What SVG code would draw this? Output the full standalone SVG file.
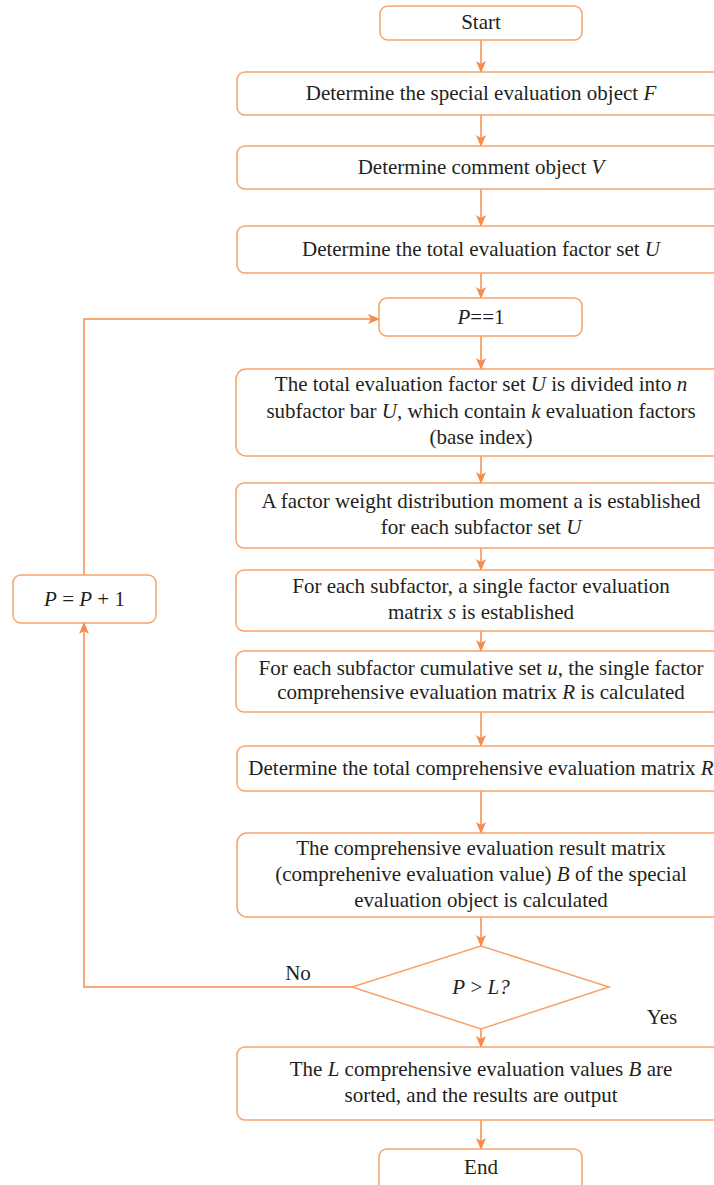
<svg xmlns="http://www.w3.org/2000/svg" width="714" height="1185" viewBox="0 0 714 1185">
<style>
.box{fill:#fff;stroke:#f7a26a;stroke-width:1.5}
.ln{fill:none;stroke:#f48c4c;stroke-width:1.5}
text{font-family:"Liberation Serif","Times New Roman",serif;font-size:21px;fill:#231f20;text-anchor:middle}
.i{font-style:italic}
</style>
<defs>
<marker id="ah" markerWidth="12" markerHeight="10" refX="11" refY="5" orient="auto" markerUnits="userSpaceOnUse">
<path d="M0,0 L12,5 L0,10 L3,5 Z" fill="#f48c4c"/>
</marker>
</defs>
<rect width="714" height="1185" fill="#fff"/>
<g id="connectors">
<line class="ln" x1="481" y1="40" x2="481" y2="72" marker-end="url(#ah)"/>
<line class="ln" x1="481" y1="115" x2="481" y2="146" marker-end="url(#ah)"/>
<line class="ln" x1="481" y1="189" x2="481" y2="226" marker-end="url(#ah)"/>
<line class="ln" x1="481" y1="273" x2="481" y2="298" marker-end="url(#ah)"/>
<line class="ln" x1="481" y1="336" x2="481" y2="369" marker-end="url(#ah)"/>
<line class="ln" x1="481" y1="456" x2="481" y2="483" marker-end="url(#ah)"/>
<line class="ln" x1="481" y1="548" x2="481" y2="570" marker-end="url(#ah)"/>
<line class="ln" x1="481" y1="631" x2="481" y2="651" marker-end="url(#ah)"/>
<line class="ln" x1="481" y1="712" x2="481" y2="746" marker-end="url(#ah)"/>
<line class="ln" x1="481" y1="791" x2="481" y2="833" marker-end="url(#ah)"/>
<line class="ln" x1="481" y1="917" x2="481" y2="946" marker-end="url(#ah)"/>
<line class="ln" x1="481" y1="1029" x2="481" y2="1047" marker-end="url(#ah)"/>
<line class="ln" x1="481" y1="1120" x2="481" y2="1149" marker-end="url(#ah)"/>
<polyline class="ln" points="352,987 84,987 84,623" marker-end="url(#ah)"/>
<polyline class="ln" points="84,575 84,319 379,319" marker-end="url(#ah)"/>
<text x="298" y="980">No</text>
<text x="662" y="1024">Yes</text>
</g>
<g id="start"><rect class="box" x="380" y="6" width="202" height="34" rx="8"/><text x="481" y="29">Start</text></g>
<g id="n1"><rect class="box" x="237" y="72" width="490" height="43" rx="8"/><text x="481" y="100">Determine the special evaluation object <tspan class="i">F</tspan></text></g>
<g id="n2"><rect class="box" x="237" y="146" width="490" height="43" rx="8"/><text x="481" y="174">Determine comment object <tspan class="i">V</tspan></text></g>
<g id="n3"><rect class="box" x="237" y="226" width="490" height="47" rx="8"/><text x="481" y="256">Determine the total evaluation factor set <tspan class="i">U</tspan></text></g>
<g id="p1"><rect class="box" x="379" y="298" width="203" height="38" rx="8"/><text x="481" y="324"><tspan class="i">P</tspan>==1</text></g>
<g id="n4"><rect class="box" x="236" y="369" width="491" height="87" rx="10"/>
<text x="481" y="391">The total evaluation factor set <tspan class="i">U</tspan> is divided into <tspan class="i">n</tspan></text>
<text x="481" y="418">subfactor bar <tspan class="i">U</tspan>, which contain <tspan class="i">k</tspan> evaluation factors</text>
<text x="481" y="444">(base index)</text></g>
<g id="n5"><rect class="box" x="236" y="483" width="491" height="65" rx="8"/>
<text x="481" y="508">A factor weight distribution moment a is established</text>
<text x="481" y="534">for each subfactor set <tspan class="i">U</tspan></text></g>
<g id="n6"><rect class="box" x="236" y="570" width="491" height="61" rx="8"/>
<text x="481" y="593">For each subfactor, a single factor evaluation</text>
<text x="481" y="619">matrix <tspan class="i">s</tspan> is established</text></g>
<g id="n7"><rect class="box" x="236" y="651" width="491" height="61" rx="8"/>
<text x="481" y="675">For each subfactor cumulative set <tspan class="i">u</tspan>, the single factor</text>
<text x="481" y="699">comprehensive evaluation matrix <tspan class="i">R</tspan> is calculated</text></g>
<g id="n8"><rect class="box" x="237" y="746" width="490" height="45" rx="8"/>
<text x="481" y="775">Determine the total comprehensive evaluation matrix <tspan class="i">R</tspan></text></g>
<g id="n9"><rect class="box" x="237" y="833" width="490" height="84" rx="10"/>
<text x="481" y="855">The comprehensive evaluation result matrix</text>
<text x="481" y="881">(comprehenive evaluation value) <tspan class="i">B</tspan> of the special</text>
<text x="481" y="907">evaluation object is calculated</text></g>
<g id="dec"><polygon class="box" points="481,946 609,987 481,1029 352,987"/><text x="481" y="994"><tspan class="i">P</tspan> &gt; <tspan class="i">L?</tspan></text></g>
<g id="pp"><rect class="box" x="13" y="575" width="143" height="48" rx="8"/><text x="84.5" y="606"><tspan class="i">P</tspan> = <tspan class="i">P</tspan> + 1</text></g>
<g id="n10"><rect class="box" x="237" y="1047" width="490" height="73" rx="8"/>
<text x="481" y="1076">The <tspan class="i">L</tspan> comprehensive evaluation values <tspan class="i">B</tspan> are</text>
<text x="481" y="1102">sorted, and the results are output</text></g>
<g id="end"><rect class="box" x="379" y="1149" width="203" height="50" rx="8"/><text x="481" y="1174">End</text></g>
</svg>
